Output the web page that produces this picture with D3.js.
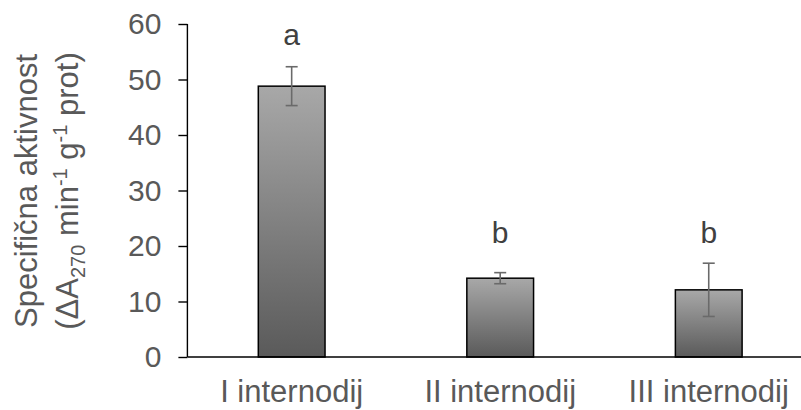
<!DOCTYPE html>
<html><head><meta charset="utf-8">
<script src="https://cdn.jsdelivr.net/npm/d3@7"></script>
<style>body{margin:0;background:#fff}svg{display:block}</style>
</head><body>
<svg id="c" width="801" height="410"></svg>
<script>
const categories = ["I internodij", "II internodij", "III internodij"];
const values = [48.8, 14.2, 12.1];
const errors = [3.5, 1.0, 4.8];
const letters = ["a", "b", "b"];
const letterLevels = [56.2, 20.5, 20.5];
const yTicks = [0, 10, 20, 30, 40, 50, 60];

const svg = d3.select("#c");
const font = "Liberation Sans, Arial, sans-serif";
const x = d3.scaleBand().domain(categories).range([187.4, 813]).paddingInner(0.68).paddingOuter(0.34);
const y = d3.scaleLinear().domain([0, 60]).range([357, 24]);

const defs = svg.append("defs");
const g = defs.append("linearGradient").attr("id", "grad").attr("x1", 0).attr("y1", 0).attr("x2", 0).attr("y2", 1);
g.append("stop").attr("offset", "0%").attr("stop-color", "#a8a8a8");
g.append("stop").attr("offset", "100%").attr("stop-color", "#5a5a5a");

// y axis
const ya = svg.append("g").attr("transform", "translate(187.4,0)")
  .call(d3.axisLeft(y).tickValues(yTicks).tickSize(9).tickPadding(17));
ya.select(".domain").attr("stroke", "#000").attr("stroke-width", 1.4).attr("d", `M0,${y(60)}V${y(0)}`);
ya.selectAll(".tick line").attr("stroke", "#000").attr("stroke-width", 1.4);
ya.selectAll(".tick text").attr("font-family", font).attr("font-size", 30).attr("fill", "#595959");

// bars
svg.selectAll("rect.bar").data(values).enter().append("rect").attr("class", "bar")
  .attr("x", (d, i) => x(categories[i])).attr("width", x.bandwidth())
  .attr("y", d => y(d)).attr("height", d => y(0) - y(d))
  .attr("fill", "url(#grad)").attr("stroke", "#000").attr("stroke-width", 1.5);

// x axis line
svg.append("line").attr("x1", 187.4).attr("x2", 801).attr("y1", y(0)).attr("y2", y(0))
  .attr("stroke", "#000").attr("stroke-width", 1.4);

// error bars
const eb = svg.selectAll("g.err").data(values).enter().append("g").attr("class", "err")
  .attr("stroke", "#6a6a6a").attr("stroke-width", 1.6);
eb.append("line").attr("x1", (d, i) => x(categories[i]) + x.bandwidth() / 2).attr("x2", (d, i) => x(categories[i]) + x.bandwidth() / 2)
  .attr("y1", (d, i) => y(d + errors[i])).attr("y2", (d, i) => y(d - errors[i]));
[1, -1].forEach(s => {
  eb.append("line").attr("x1", (d, i) => x(categories[i]) + x.bandwidth() / 2 - 6).attr("x2", (d, i) => x(categories[i]) + x.bandwidth() / 2 + 6)
    .attr("y1", (d, i) => y(d + s * errors[i])).attr("y2", (d, i) => y(d + s * errors[i]));
});

// letters
svg.selectAll("text.let").data(letters).enter().append("text").attr("class", "let")
  .attr("x", (d, i) => x(categories[i]) + x.bandwidth() / 2).attr("y", (d, i) => y(letterLevels[i]))
  .attr("text-anchor", "middle").attr("font-family", font).attr("font-size", 30).attr("fill", "#404040").text(d => d);

// x labels
svg.selectAll("text.xl").data(categories).enter().append("text").attr("class", "xl")
  .attr("x", d => x(d) + x.bandwidth() / 2).attr("y", 402)
  .attr("text-anchor", "middle").attr("font-family", font).attr("font-size", 31).attr("fill", "#595959").text(d => d);

// y title
const yt = svg.append("text").attr("transform", "translate(0,191) rotate(-90)")
  .attr("text-anchor", "middle").attr("font-family", font).attr("font-size", 31).attr("fill", "#595959");
yt.append("tspan").attr("x", 0).attr("y", 37).text("Specifična aktivnost");
const t2 = yt.append("tspan").attr("x", 0).attr("y", 78);
t2.text("(ΔA");
t2.append("tspan").attr("font-size", 20).attr("dy", 7).text("270");
t2.append("tspan").attr("dy", -7).text(" min");
t2.append("tspan").attr("font-size", 20).attr("dy", -11).text("-1");
t2.append("tspan").attr("dy", 11).text(" g");
t2.append("tspan").attr("font-size", 20).attr("dy", -11).text("-1");
t2.append("tspan").attr("dy", 11).text(" prot)");
</script>
</body></html>
